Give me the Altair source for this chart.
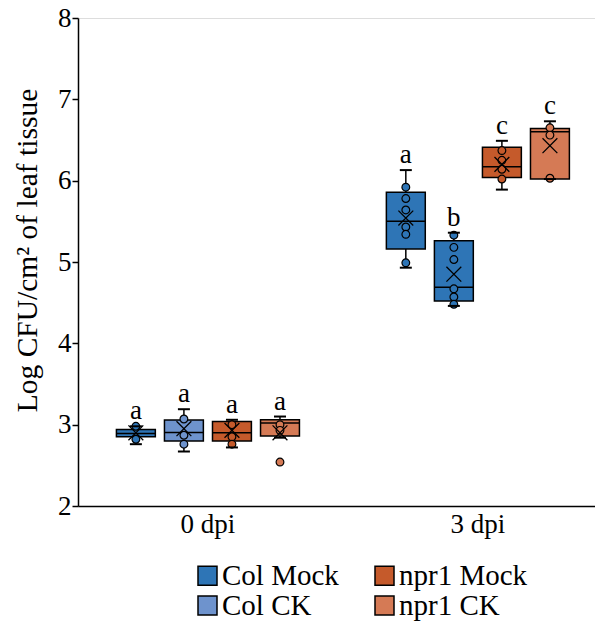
import altair as alt
import pandas as pd

FONT = "Liberation Serif"

series = ["Col Mock", "Col CK", "npr1 Mock", "npr1 CK"]
legend_order = ["Col Mock", "npr1 Mock", "Col CK", "npr1 CK"]
legend_colors = ["#2E75B6", "#C55A2B", "#6E93CD", "#D57A55"]
days = ["0 dpi", "3 dpi"]

# box statistics per (day, series)
box_day = ["0 dpi"] * 4 + ["3 dpi"] * 4
box_series = series * 2
box_fill = ["Col Mock", "Col CK", "npr1 Mock", "npr1 CK",
            "Col Mock", "Col Mock", "npr1 Mock", "npr1 CK"]
q1 = [2.85, 2.80, 2.80, 2.86, 5.16, 4.52, 6.04, 6.02]
median = [2.89, 2.905, 2.90, 3.02, 5.50, 4.69, 6.17, 6.60]
q3 = [2.94, 3.057, 3.04, 3.06, 5.857, 5.26, 6.41, 6.64]
whisk_lo = [2.76, 2.67, 2.72, 2.84, 4.93, 4.46, 5.89, 6.02]
whisk_hi = [2.98, 3.19, 3.06, 3.10, 6.13, 5.36, 6.49, 6.73]
mean = [2.90, 2.95, 2.93, 2.90, 5.54, 4.85, 6.20, 6.43]
letters = ["a", "a", "a", "a", "a", "b", "c", "c"]

# individual data points
pt_day = (["0 dpi"] * 2 + ["0 dpi"] * 3 + ["0 dpi"] * 3 + ["0 dpi"] * 3
          + ["3 dpi"] * 6 + ["3 dpi"] * 6 + ["3 dpi"] * 4 + ["3 dpi"] * 3)
pt_series = (["Col Mock"] * 2 + ["Col CK"] * 3 + ["npr1 Mock"] * 3 + ["npr1 CK"] * 3
             + ["Col Mock"] * 6 + ["Col CK"] * 6 + ["npr1 Mock"] * 4 + ["npr1 CK"] * 3)
pt_fill = (["Col Mock"] * 2 + ["Col CK"] * 3 + ["npr1 Mock"] * 3 + ["npr1 CK"] * 3
           + ["Col Mock"] * 6 + ["Col Mock"] * 6 + ["npr1 Mock"] * 4 + ["npr1 CK"] * 3)
pt_value = ([2.98, 2.82]
            + [3.07, 2.87, 2.76]
            + [3.00, 2.85, 2.76]
            + [3.00, 2.93, 2.54]
            + [5.92, 5.78, 5.64, 5.43, 5.34, 4.99]
            + [5.33, 5.18, 5.03, 4.67, 4.57, 4.48]
            + [6.37, 6.25, 6.14, 6.02]
            + [6.65, 6.56, 6.03])

boxes = pd.DataFrame({
    "day": box_day, "series": box_series, "fillkey": box_fill,
    "q1": q1, "median": median, "q3": q3, "lo": whisk_lo, "hi": whisk_hi,
    "mean": mean, "letter": letters,
})
points = pd.DataFrame({"day": pt_day, "series": pt_series, "fillkey": pt_fill, "value": pt_value})

x_enc = alt.X("day:N", sort=days,
              scale=alt.Scale(domain=days, paddingInner=0.322, paddingOuter=0.1186, align=0.6),
              axis=alt.Axis(title=None, labelAngle=0, ticks=False, labelFontSize=27,
                            labelPadding=5, domainColor="black", domainWidth=1.5,
                            labelColor="black", labelFont=FONT))
xo_enc = alt.XOffset("series:N", sort=series,
                     scale=alt.Scale(domain=series, paddingInner=0.19, paddingOuter=0))
y_scale = alt.Scale(domain=[2, 8], nice=False, zero=False)
y_axis = alt.Axis(title="Log CFU/cm² of leaf tissue", values=[2, 3, 4, 5, 6, 7, 8], format="d",
                  grid=False, tickSize=6, tickColor="black", tickWidth=1.5,
                  domainColor="black", domainWidth=1.5, labelFontSize=27,
                  labelColor="black", labelFont=FONT, labelPadding=1,
                  titleFont=FONT, titleFontSize=29.5, titleFontWeight="normal",
                  titleColor="black", titlePadding=15, titleY=232)
color_enc = alt.Color("fillkey:N",
                      scale=alt.Scale(domain=legend_order, range=legend_colors),
                      legend=alt.Legend(title=None, orient="none", legendX=115, legendY=543,
                                        direction="horizontal", columns=2, columnPadding=31,
                                        rowPadding=0, padding=0,
                                        symbolType="square", symbolSize=361,
                                        symbolStrokeColor="black", symbolStrokeWidth=1.5,
                                        symbolOpacity=1, labelFont=FONT, labelFontSize=29,
                                        labelColor="black", labelOffset=0, labelLimit=300))

base = alt.Chart(boxes).encode(x=x_enc, xOffset=xo_enc)

whisker = base.mark_rule(color="black", strokeWidth=1.5).encode(
    y=alt.Y("lo:Q", scale=y_scale, axis=y_axis), y2="hi:Q")
box = base.mark_bar(stroke="black", strokeWidth=1.5, opacity=1).encode(
    y=alt.Y("q1:Q", scale=y_scale), y2="q3:Q", color=color_enc)
med = base.mark_tick(orient="horizontal", color="black", size=39, thickness=1.5, opacity=1).encode(
    y=alt.Y("median:Q", scale=y_scale))
cap_hi = base.mark_tick(orient="horizontal", color="black", size=12, thickness=2, opacity=1).encode(
    y=alt.Y("hi:Q", scale=y_scale))
cap_lo = base.mark_tick(orient="horizontal", color="black", size=12, thickness=2, opacity=1).encode(
    y=alt.Y("lo:Q", scale=y_scale))
pts = alt.Chart(points).mark_point(filled=True, shape="circle", size=60, stroke="black",
                                   strokeWidth=1.2, opacity=1).encode(
    x=x_enc, xOffset=xo_enc, y=alt.Y("value:Q", scale=y_scale),
    color=alt.Color("fillkey:N", scale=alt.Scale(domain=legend_order, range=legend_colors), legend=None))
mean_mark = base.mark_point(shape="M-1,-1L1,1M1,-1L-1,1", size=220, filled=False,
                            color="black", strokeWidth=1.3, opacity=1).encode(
    y=alt.Y("mean:Q", scale=y_scale))
txt = base.mark_text(font=FONT, fontSize=27, baseline="alphabetic", dy=-7, color="black").encode(
    y=alt.Y("hi:Q", scale=y_scale), text="letter:N")

chart = alt.layer(whisker, box, med, pts, mean_mark, cap_hi, cap_lo, txt).properties(
    width=517, height=488,
    autosize=alt.AutoSizeParams(type="none"),
    padding={"left": 78, "top": 18, "right": 0, "bottom": 115},
).configure_view(stroke=None).configure(background="white")

chart.save("out.html", embed_options={"renderer": "svg", "actions": False})
